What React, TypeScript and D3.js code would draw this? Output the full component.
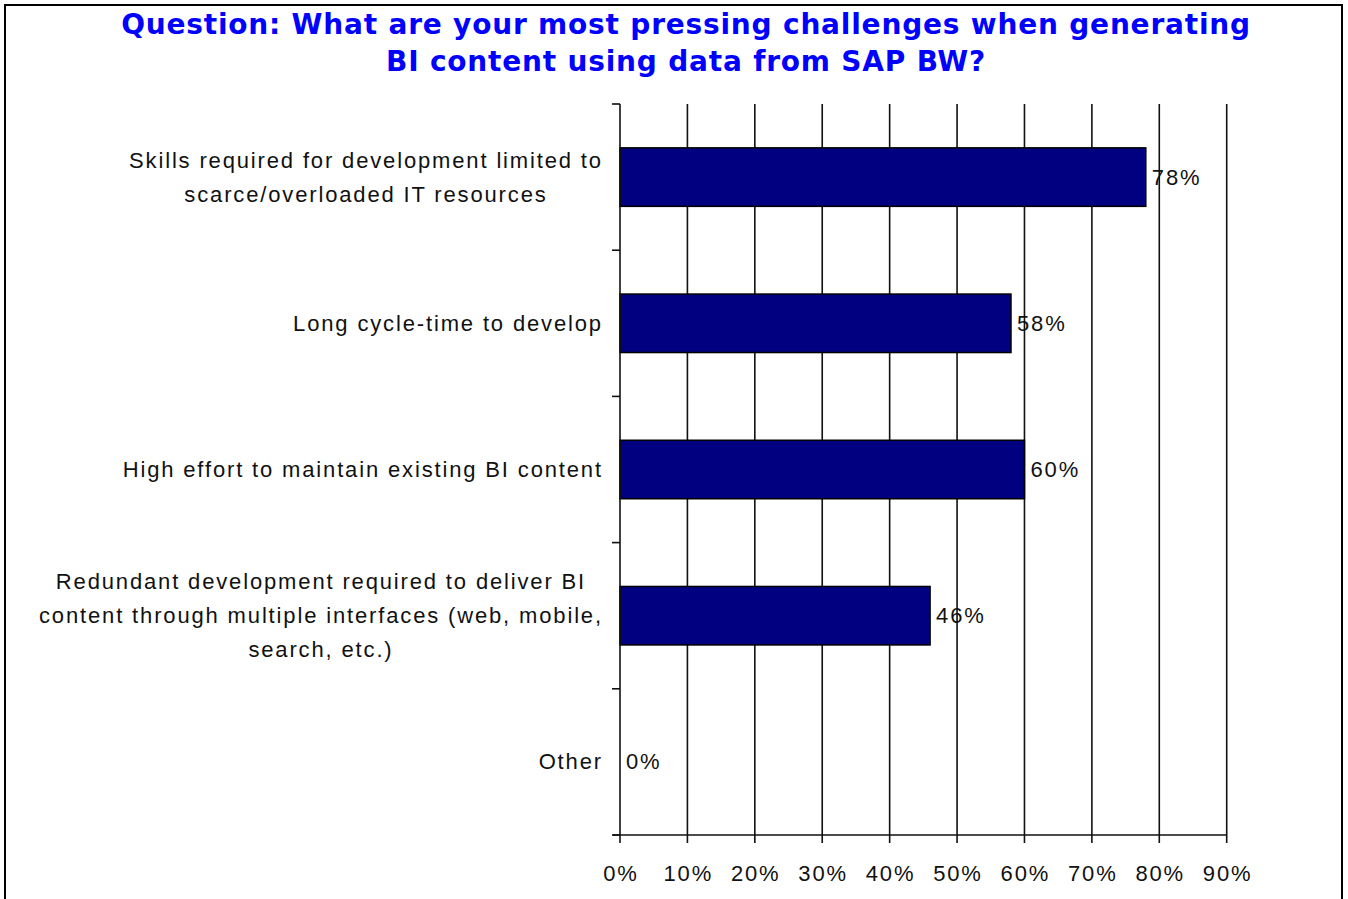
import React from "react";
import * as d3 from "d3";

const categories: string[][] = [
  ["Skills required for development limited to", "scarce/overloaded IT resources"],
  ["Long cycle-time to develop"],
  ["High effort to maintain existing BI content"],
  ["Redundant development required to deliver BI", "content through multiple interfaces (web, mobile,", "search, etc.)"],
  ["Other"],
];
const values: number[] = [78, 58, 60, 46, 0];
const xTicks: number[] = [0, 10, 20, 30, 40, 50, 60, 70, 80, 90];
const titleLines: string[] = [
  "Question: What are your most pressing challenges when generating",
  "BI content using data from SAP BW?",
];

const W = 1348;
const H = 899;
const plotLeft = 620;
const plotRight = 1226.7;
const plotTop = 104;
const plotBottom = 835;
const labelFontFamily = "'Liberation Sans', Arial, sans-serif";
const labelSize = 22;
const ls = 1.85;

let ctx: CanvasRenderingContext2D | null = null;
function measure(s: string): number {
  if (!ctx && typeof document !== "undefined") {
    ctx = document.createElement("canvas").getContext("2d");
  }
  if (!ctx) return s.length * labelSize * 0.5 + s.length * ls;
  ctx.font = `${labelSize}px ${labelFontFamily}`;
  return ctx.measureText(s).width + s.length * ls;
}

export default function App() {
  const x = d3.scaleLinear().domain([0, 90]).range([plotLeft, plotRight]);
  const y = d3
    .scaleBand<number>()
    .domain(categories.map((_, i) => i))
    .range([plotTop, plotBottom])
    .paddingInner(0.6)
    .paddingOuter(0.3);
  const step = (plotBottom - plotTop) / categories.length;
  const boundaries = d3.range(categories.length + 1).map((i) => plotTop + i * step);
  const lineH = 34;
  const labelRight = 602;

  return (
    <svg
      width={W}
      height={H}
      style={{ position: "absolute", left: 0, top: 0, background: "#fff" }}
    >
      <rect x={5} y={5} width={1337} height={H + 10} fill="#fff" stroke="#000" strokeWidth={2} />
      {titleLines.map((t, i) => (
        <text
          key={i}
          x={686}
          y={34 + i * 37}
          textAnchor="middle"
          fontFamily="'DejaVu Sans', Verdana, sans-serif"
          fontWeight="bold"
          fontSize={28}
          letterSpacing={0.8}
          fill="#0000FF"
        >
          {t}
        </text>
      ))}
      {/* gridlines */}
      {xTicks.slice(1).map((t) => (
        <line key={t} x1={x(t)} x2={x(t)} y1={plotTop} y2={plotBottom} stroke="#111" strokeWidth={1.6} />
      ))}
      {/* bars */}
      {values.map((v, i) =>
        v > 0 ? (
          <rect
            key={i}
            x={x(0)}
            y={y(i)!}
            width={x(v) - x(0)}
            height={y.bandwidth()}
            fill="#000080"
            stroke="#000"
            strokeWidth={1.5}
          />
        ) : null
      )}
      {/* y axis */}
      <line x1={plotLeft} x2={plotLeft} y1={plotTop} y2={plotBottom} stroke="#111" strokeWidth={1.6} />
      {boundaries.map((b, i) => (
        <line key={i} x1={plotLeft - 8} x2={plotLeft} y1={b} y2={b} stroke="#111" strokeWidth={1.6} />
      ))}
      {/* x axis */}
      <line x1={plotLeft - 7} x2={plotRight} y1={plotBottom} y2={plotBottom} stroke="#111" strokeWidth={1.6} />
      {xTicks.map((t) => (
        <g key={t}>
          <line x1={x(t)} x2={x(t)} y1={plotBottom} y2={plotBottom + 8} stroke="#111" strokeWidth={1.6} />
          <text
            x={x(t) + ls / 2}
            y={873}
            textAnchor="middle"
            dominantBaseline="central"
            fontFamily={labelFontFamily}
            fontSize={labelSize}
            letterSpacing={ls}
            fill="#111"
          >
            {t}%
          </text>
        </g>
      ))}
      {/* value labels */}
      {values.map((v, i) => (
        <text
          key={i}
          x={x(v) + 6}
          y={y(i)! + y.bandwidth() / 2}
          dominantBaseline="central"
          fontFamily={labelFontFamily}
          fontSize={labelSize}
          letterSpacing={ls}
          fill="#111"
        >
          {v}%
        </text>
      ))}
      {/* category labels: block right-aligned, lines centered */}
      {categories.map((lines, i) => {
        const cy = y(i)! + y.bandwidth() / 2;
        const start = cy - ((lines.length - 1) * lineH) / 2;
        const maxW = Math.max(...lines.map(measure));
        const cx = labelRight - maxW / 2 + ls / 2;
        return (
          <text
            key={i}
            textAnchor="middle"
            fontFamily={labelFontFamily}
            fontSize={labelSize}
            letterSpacing={ls}
            fill="#111"
          >
            {lines.map((l, j) => (
              <tspan key={j} x={cx} y={start + j * lineH} dominantBaseline="central">
                {l}
              </tspan>
            ))}
          </text>
        );
      })}
    </svg>
  );
}
